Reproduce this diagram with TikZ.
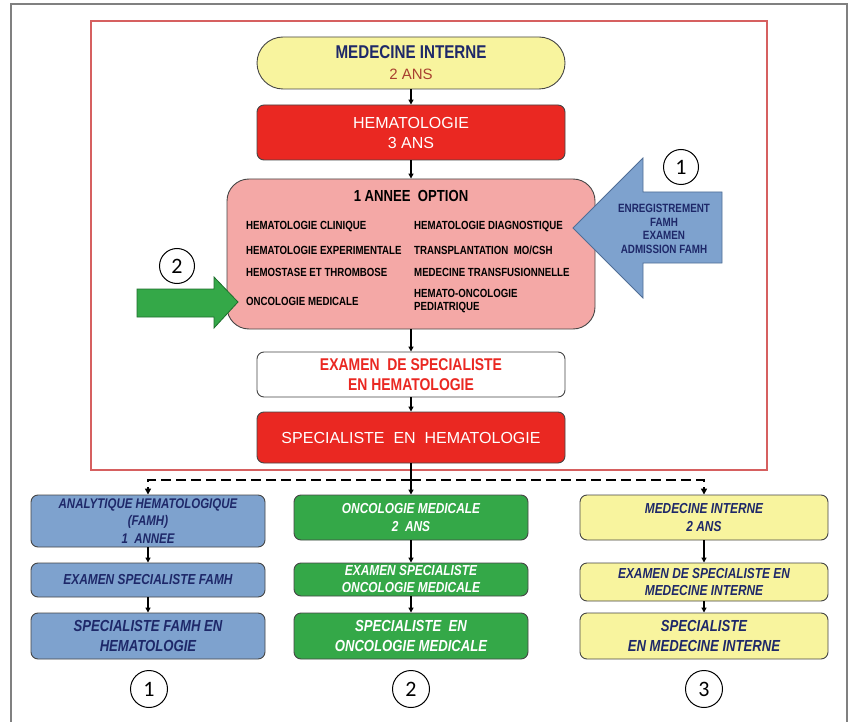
\documentclass[tikz,border=0pt]{standalone}
\usepackage{fontspec}
\setmainfont{Liberation Sans}
\newfontfamily\nar{Liberation Sans}[FakeStretch=0.82]
\newfontfamily\circfont{Carlito}
\usetikzlibrary{arrows.meta}
\definecolor{cyel}{RGB}{248,244,158}
\definecolor{cred}{RGB}{234,40,34}
\definecolor{cpink}{RGB}{244,168,166}
\definecolor{cblue}{RGB}{126,162,206}
\definecolor{cbluedk}{RGB}{80,110,150}
\definecolor{cgreen}{RGB}{52,168,72}
\definecolor{cgreendk}{RGB}{30,110,45}
\definecolor{cnavy}{RGB}{30,40,105}
\definecolor{cbrown}{RGB}{168,64,48}
\definecolor{cframe}{RGB}{214,96,96}
\definecolor{cborder}{RGB}{70,70,70}
\tikzset{
  box/.style={draw=cborder, line width=0.9pt, rounded corners=7pt, inner sep=0pt, align=center},
  arr/.style={line width=1.2pt, -{Triangle[length=5pt,width=5pt]}},
  dasharr/.style={line width=2.6pt, dash pattern=on 10pt off 5pt, -{Triangle[length=6pt,width=6pt]}},
  item/.style={anchor=west, inner sep=0pt, align=left, font=\nar\bfseries\fontsize{11.8}{13}\selectfont},
  numc/.style={circle, draw=black, line width=1pt, fill=white, minimum size=37pt, inner sep=0pt, font=\circfont\fontsize{22}{22}\selectfont},
  bl/.style={box, fill=cblue, minimum width=234pt, text=cnavy},
  gr/.style={box, fill=cgreen, minimum width=234pt, text=white},
  ye/.style={box, fill=cyel, minimum width=248pt, text=cnavy},
  rowa/.style={font=\nar\bfseries\itshape\fontsize{14}{17.5}\selectfont},
  rowc/.style={font=\nar\bfseries\itshape\fontsize{16}{20}\selectfont}
}
\begin{document}
\begin{tikzpicture}[x=1pt,y=-1pt]
\useasboundingbox (0,0) rectangle (854,722);
\fill[white] (0,0) rectangle (854,722);
\draw[gray, line width=1.2pt] (11,722) -- (11,4) -- (847,4) -- (847,722);
\draw[cframe, line width=2.5pt] (91,21) rectangle (767,470);

% top chain
\node[box, fill=cyel, minimum width=308pt, minimum height=52pt, rounded corners=26pt, font=\fontsize{15}{21}\selectfont] (mi) at (411,63)
  {{\nar\bfseries\fontsize{18.5}{21}\selectfont\color{cnavy}MEDECINE INTERNE}\\{\color{cbrown}2 ANS}};
\node[box, fill=cred, minimum width=308pt, minimum height=55pt, text=white, font=\fontsize{16}{20}\selectfont] (hem) at (411,132.5)
  {HEMATOLOGIE\\3 ANS};
\node[box, fill=cpink, minimum width=368pt, minimum height=150pt, rounded corners=22pt] (opt) at (411,254) {};
\node[inner sep=0pt, font=\nar\bfseries\fontsize{16}{18}\selectfont] (optt) at (411,196) {1 ANNEE\ \ OPTION};
\node[item] (i1) at (246,227) {HEMATOLOGIE CLINIQUE};
\node[item] (i2) at (246,250) {HEMATOLOGIE EXPERIMENTALE};
\node[item] (i3) at (246,272) {HEMOSTASE ET THROMBOSE};
\node[item] (i4) at (246,301) {ONCOLOGIE MEDICALE};
\node[item] (j1) at (414,227) {HEMATOLOGIE DIAGNOSTIQUE};
\node[item] (j2) at (414,250) {TRANSPLANTATION\ \ MO/CSH};
\node[item] (j3) at (414,272) {MEDECINE TRANSFUSIONNELLE};
\node[item] (j4) at (414,301) {HEMATO-ONCOLOGIE\\PEDIATRIQUE};

% side arrows
\draw[cbluedk, line width=0.8pt, fill=cblue] (573,228) -- (643,158) -- (643,192) -- (722,192) -- (722,263) -- (643,263) -- (643,298) -- cycle;
\node[inner sep=0pt, align=center, text=cnavy, font=\nar\bfseries\fontsize{12}{13.7}\selectfont] (btxt) at (664,229)
  {ENREGISTREMENT\\FAMH\\EXAMEN\\ADMISSION FAMH};
\draw[cgreendk, line width=0.8pt, fill=cgreen] (137,289) -- (214,289) -- (214,277) -- (238,302) -- (214,328) -- (214,317) -- (137,317) -- cycle;
\node[numc, minimum size=35pt] (n1t) at (681,167) {1};
\node[numc, minimum size=35pt] (n2t) at (177,266) {2};

\node[box, fill=white, minimum width=308pt, minimum height=45pt, text=cred, font=\nar\bfseries\fontsize{17}{20}\selectfont] (exam) at (411,374.5)
  {EXAMEN\ \ DE SPECIALISTE\\EN HEMATOLOGIE};
\node[box, fill=cred, minimum width=308pt, minimum height=51pt, text=white, font=\fontsize{16}{20}\selectfont] (spec) at (411,437.5)
  {SPECIALISTE\ \ EN\ \ HEMATOLOGIE};

\draw[arr] (mi) -- (hem);
\draw[arr] (hem) -- (opt);
\draw[arr] (opt) -- (exam);
\draw[arr] (exam) -- (spec);

% bottom columns
\node[bl, minimum height=52pt, rowa] (b1) at (148,521) {ANALYTIQUE HEMATOLOGIQUE\\(FAMH)\\1\ \ ANNEE};
\node[bl, minimum height=34pt, font=\nar\bfseries\itshape\fontsize{14.5}{17.5}\selectfont] (b2) at (148,580) {EXAMEN SPECIALISTE FAMH};
\node[bl, minimum height=46pt, rowc] (b3) at (148,636) {SPECIALISTE FAMH EN\\HEMATOLOGIE};

\node[gr, minimum height=45pt, font=\nar\bfseries\itshape\fontsize{14.5}{18}\selectfont] (g1) at (411,517.5) {ONCOLOGIE MEDICALE\\2\ \ ANS};
\node[gr, minimum height=33pt, font=\nar\bfseries\itshape\fontsize{14.5}{17}\selectfont] (g2) at (411,579.5) {EXAMEN SPECIALISTE\\ONCOLOGIE MEDICALE};
\node[gr, minimum height=46pt, rowc] (g3) at (411,636) {SPECIALISTE\ \ EN\\ONCOLOGIE MEDICALE};

\node[ye, minimum height=45pt, font=\nar\bfseries\itshape\fontsize{14.5}{18}\selectfont] (y1) at (704,517.5) {MEDECINE INTERNE\\2 ANS};
\node[ye, minimum height=38pt, font=\nar\bfseries\itshape\fontsize{14.5}{17.5}\selectfont] (y2) at (704,582) {EXAMEN DE SPECIALISTE EN\\MEDECINE INTERNE};
\node[ye, minimum height=46pt, rowc] (y3) at (704,636) {SPECIALISTE\\EN MEDECINE INTERNE};

\coordinate (jn) at (411,480);
\draw[line width=1.2pt] (spec) -- (jn);
\draw[arr] (jn) -- (g1);
\draw[dasharr] (jn) -| (b1.north);
\draw[dasharr] (jn) -| (y1.north);

\draw[arr] (b1) -- (b2);
\draw[arr] (b2) -- (b3);
\draw[arr] (g1) -- (g2);
\draw[arr] (g2) -- (g3);
\draw[arr] (y1) -- (y2);
\draw[arr] (y2) -- (y3);

\node[numc] (n1) at (149,689) {1};
\node[numc] (n2) at (411,689) {2};
\node[numc] (n3) at (704,689) {3};
\end{tikzpicture}
\end{document}
